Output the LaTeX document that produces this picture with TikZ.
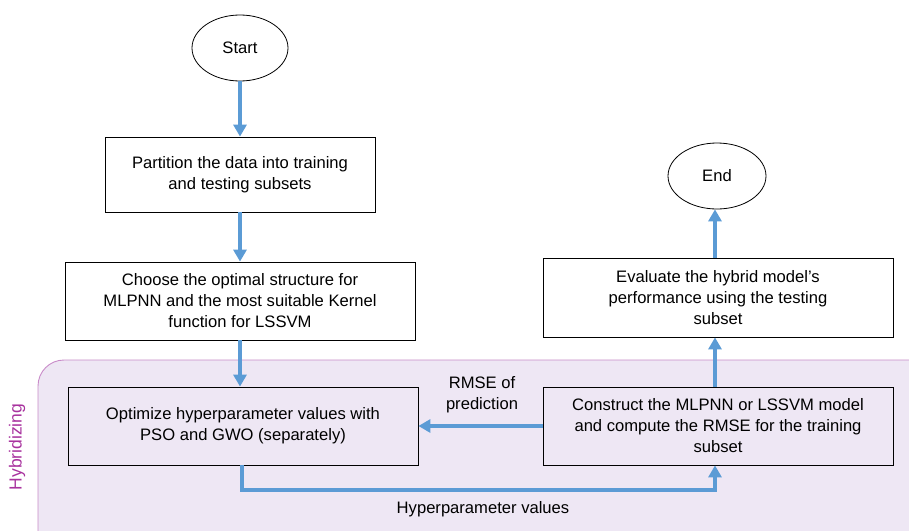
\documentclass[tikz,border=0pt]{standalone}
\usepackage{fontspec}
\setmainfont{Liberation Sans}
\usetikzlibrary{arrows.meta,shapes.geometric}
\definecolor{arrowblue}{HTML}{5B9BD5}
\definecolor{hybfill}{HTML}{EEE7F4}
\definecolor{hybdraw}{HTML}{C98BC9}
\definecolor{hybtext}{HTML}{A8329E}
\tikzset{
  box/.style={draw=black, line width=0.8pt, align=center, font=\fontsize{16.6}{21}\selectfont, inner sep=0pt},
  oval/.style={draw=black, line width=0.8pt, ellipse, font=\fontsize{16.6}{20}\selectfont, inner sep=0pt},
  flow/.style={draw=arrowblue, line width=3.8pt, -{Triangle[length=12pt,width=13pt]}},
  lbl/.style={font=\fontsize{16.6}{21}\selectfont, align=center}
}
\begin{document}
\begin{tikzpicture}[x=1pt,y=-1pt]
\useasboundingbox (0,0) rectangle (909,530);
\fill[white] (0,0) rectangle (909,530);
\begin{scope}
\clip (0,0) rectangle (909,530);
\draw[hybdraw, fill=hybfill, line width=0.9pt, rounded corners=26pt] (38,360) rectangle (935,560);
\end{scope}
\node[rotate=90, text=hybtext, font=\fontsize{17.5}{20}\selectfont] (hyb) at (17,447) {Hybridizing};

\node[oval, minimum width=96pt, minimum height=66pt] (start) at (240,48) {Start};
\node[box, minimum width=270pt, minimum height=75pt] (b1) at (240,174.5) {Partition the data into training\\and testing subsets};
\node[box, minimum width=350pt, minimum height=78pt] (b2) at (240,301) {Choose the optimal structure for\\MLPNN and the most suitable Kernel\\function for LSSVM};
\node[box, minimum width=350pt, minimum height=78pt] (b3) at (243,426) {Optimize hyperparameter values with\\PSO and GWO (separately)};
\node[box, minimum width=350pt, minimum height=78pt] (b4) at (718,426) {Construct the MLPNN or LSSVM model\\and compute the RMSE for the training\\subset};
\node[box, minimum width=350pt, minimum height=79pt] (b5) at (718,297.5) {Evaluate the hybrid model’s\\performance using the testing\\subset};
\node[oval, minimum width=98pt, minimum height=66pt] (end) at (717,176) {End};

\coordinate (xl) at (240,0);
\coordinate (xr) at (715,0);
\draw[flow] (start.south) -- (b1.north);
\draw[flow] (b1.south) -- (b2.north);
\draw[flow] (b2.south -| xl) -- (b3.north -| xl);
\draw[flow] (b4.west) -- (b3.east);
\draw[flow] (b4.north -| xr) -- (b5.south -| xr);
\draw[flow] (b5.north -| xr) -- (end.south -| xr);
\coordinate (c1) at (242,490);
\coordinate (c2) at (715,490);
\draw[flow] (b3.south -| c1) -- (c1) -- (c2) -- (b4.south -| c2);

\node[lbl] (rmse) at (482,395) {RMSE of\\prediction};
\node[lbl] (hv) at (483,509) {Hyperparameter values};
\end{tikzpicture}
\end{document}
